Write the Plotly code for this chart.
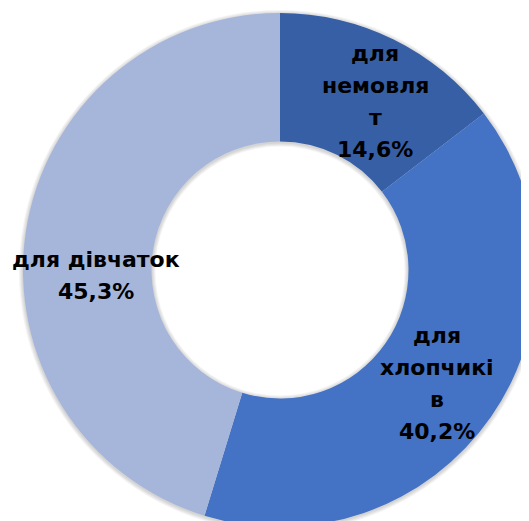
import math
import plotly.graph_objects as go

# Share of products by target group, %
categories = ["для немовлят", "для хлопчиків", "для дівчаток"]
# how the labels are wrapped inside the slices
wrapped_labels = [["для", "немовля", "т"], ["для", "хлопчикі", "в"], ["для дівчаток"]]
shares = [14.6, 40.2, 45.3]
colors = ["#375FA6", "#4472C4", "#A6B5DA"]

# where each label sits: angle clockwise from 12 o'clock, share of the outer radius
label_angles = [29.4, 125.9, 268.3]
label_radius = [0.753, 0.754, 0.716]
LINE_GAP = 32

# canvas and pie geometry (px); the page body adds an 8px offset
W, H = 544, 524
CX, CY, R = 272, 262, 257
HOLE = 0.5


def pie_domain(r, dy=0):
    return dict(x=[(CX - r) / W, (CX + r) / W],
                y=[1 - (CY + dy + r) / H, 1 - (CY + dy - r) / H])


def create_share_donut():
    """
    Donut chart of product share by target group
    """
    fig = go.Figure()

    # soft drop shadow under the ring
    for k in range(1, 5):
        fig.add_trace(go.Pie(
            values=[1],
            textinfo="none",
            hole=(HOLE * R - k) / (R + k),
            marker=dict(colors=["rgba(0,0,0,0.045)"], line=dict(width=0)),
            domain=pie_domain(R + k, dy=1),
            hoverinfo="skip",
            sort=False,
        ))

    fig.add_trace(go.Pie(
        labels=categories,
        values=shares,
        textinfo="none",
        hole=HOLE,
        sort=False,
        direction="clockwise",
        rotation=0,
        marker=dict(colors=colors, line=dict(width=0)),
        domain=pie_domain(R),
        hoverinfo="label+percent",
    ))

    # labels placed by hand, like the Excel original
    for lines, val, ang, rad in zip(wrapped_labels, shares, label_angles, label_radius):
        lines = lines + [f"{val:.1f}%".replace(".", ",")]
        d = rad * R
        px = CX + d * math.sin(math.radians(ang))
        py = CY - d * math.cos(math.radians(ang))
        n = len(lines)
        for i, line in enumerate(lines):
            ly = py + (i - (n - 1) / 2) * LINE_GAP
            fig.add_annotation(
                x=px / W, y=1 - ly / H,
                xref="paper", yref="paper",
                text=line,
                showarrow=False,
                xanchor="center", yanchor="middle",
                font=dict(family="DejaVu Sans", size=22, color="black", weight="bold"),
            )

    fig.update_layout(
        width=W,
        height=H,
        margin=dict(l=0, r=0, t=0, b=0),
        showlegend=False,
        paper_bgcolor="white",
    )
    return fig


fig = create_share_donut()
fig.write_html("out.html")
